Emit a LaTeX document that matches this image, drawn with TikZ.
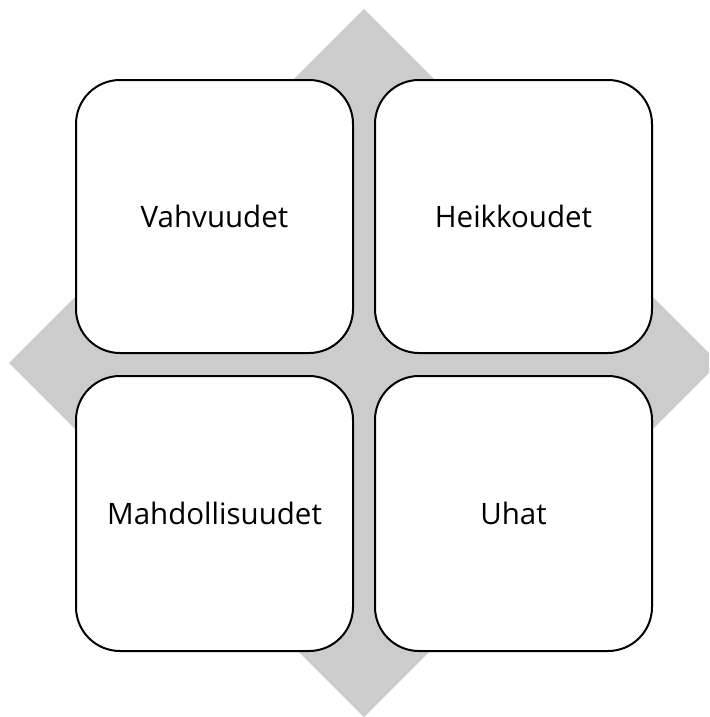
\documentclass[tikz,border=0pt]{standalone}
\usepackage{fontspec}
\setmainfont{Open Sans}
\begin{document}
\begin{tikzpicture}[x=1pt,y=-1pt,
  quad/.style={draw=black,line width=2pt,fill=white,rounded corners=44pt},
  qlabel/.style={font=\fontsize{29.5}{35}\selectfont,anchor=center}]
\useasboundingbox (0,0) rectangle (709,717);
% grey diamond behind the grid
\clip (0,0) rectangle (709,717);
\fill[fill={rgb,255:red,204;green,204;blue,204}] (364,9) -- (719,363) -- (364,717) -- (9,363) -- cycle;
% four quadrants
\draw[quad] (76,80) rectangle (353,353);
\draw[quad] (375,80) rectangle (652,353);
\draw[quad] (76,376) rectangle (353,651);
\draw[quad] (375,376) rectangle (652,651);
\node[qlabel] (s) at (214.5,216.5) {Vahvuudet};
\node[qlabel] (w) at (513.5,216.5) {Heikkoudet};
\node[qlabel] (o) at (214.5,513.5) {Mahdollisuudet};
\node[qlabel] (t) at (513.5,513.5) {Uhat};
\end{tikzpicture}
\end{document}
